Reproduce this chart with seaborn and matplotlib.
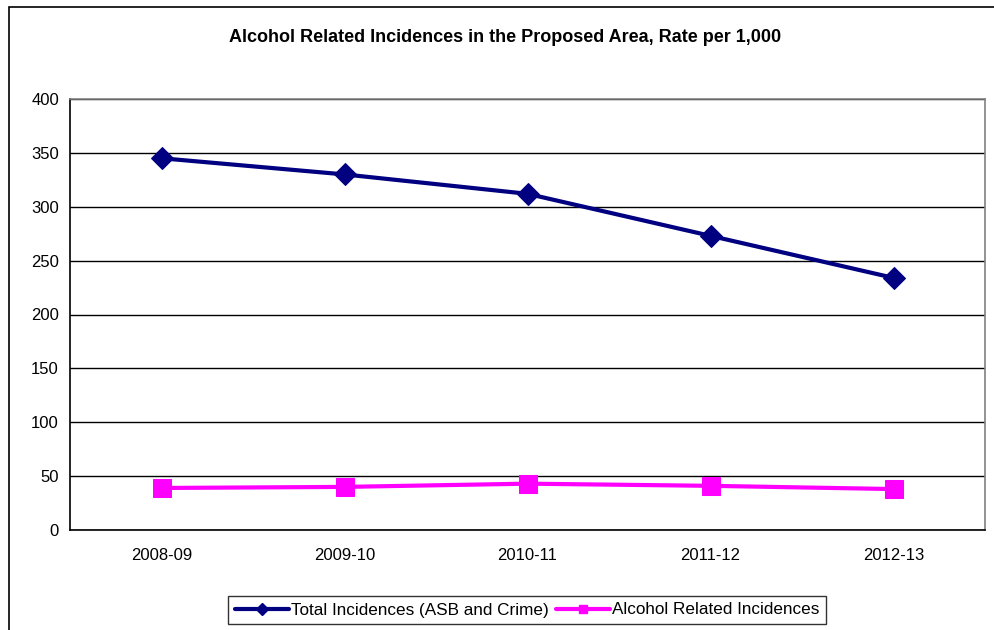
import matplotlib
matplotlib.use('Agg')
import matplotlib.pyplot as plt
import seaborn as sns
from matplotlib.patches import Rectangle
from matplotlib.lines import Line2D

# データ
years = ['2008-09', '2009-10', '2010-11', '2011-12', '2012-13']
total_incidences = [345, 330, 312, 273, 234]
alcohol_incidences = [39, 40, 43, 41, 38]

sns.set_style('white')
plt.rcParams['font.family'] = ['Liberation Sans', 'DejaVu Sans']
plt.rcParams['text.color'] = 'black'
plt.rcParams['xtick.color'] = 'black'
plt.rcParams['ytick.color'] = 'black'
plt.rcParams['axes.labelcolor'] = 'black'

fig = plt.figure(figsize=(9.95, 6.3), dpi=100)
ax = fig.add_axes([70 / 995, 1 - 530 / 630, 915 / 995, 431 / 630])

sns.lineplot(x=years, y=total_incidences, ax=ax, color='#000080', linewidth=3,
             marker='D', markersize=11, markeredgecolor='#000080', sort=False)
sns.lineplot(x=years, y=alcohol_incidences, ax=ax, color='#FF00FF', linewidth=3,
             marker='s', markersize=13, markeredgecolor='#FF00FF', sort=False)

ax.set_xlim(-0.5, len(years) - 0.5)
ax.set_ylim(0, 400)
ax.set_yticks(range(0, 401, 50))
ax.set_xticks(range(len(years)))
ax.set_xticklabels(years)
ax.set_xticks([i - 0.5 for i in range(len(years) + 1)], minor=True)
ax.tick_params(axis='x', which='major', length=0, pad=13, labelsize=12, labelcolor='black')
ax.tick_params(axis='x', which='minor', length=4, direction='out', color='black')
ax.tick_params(axis='y', length=5, direction='out', color='black', labelsize=12, pad=3,
               labelcolor='black')
ax.set_xlabel('')
ax.set_ylabel('')

ax.yaxis.grid(True, color='#000000', linewidth=1)
ax.set_axisbelow(True)
for side in ['top', 'right']:
    ax.spines[side].set_color('#808080')
    ax.spines[side].set_linewidth(1.2)
for side in ['left', 'bottom']:
    ax.spines[side].set_color('black')
    ax.spines[side].set_linewidth(1.2)

# 凡例（小さいマーカー）
handles = [
    Line2D([], [], color='#000080', linewidth=3, marker='D', markersize=6),
    Line2D([], [], color='#FF00FF', linewidth=3, marker='s', markersize=6),
]
labels = ['Total Incidences (ASB and Crime)', 'Alcohol Related Incidences']
leg = fig.legend(handles, labels, loc='center', bbox_to_anchor=(527 / 995, 1 - 610 / 630),
                 ncol=2, frameon=True, fancybox=False, edgecolor='black', fontsize=12.3,
                 handlelength=3.2, columnspacing=0.4, handletextpad=0.1, borderpad=0.4)
leg.get_frame().set_linewidth(1)
for t in leg.get_texts():
    t.set_color('black')

fig.text(505 / 995, 1 - 38 / 630, 'Alcohol Related Incidences in the Proposed Area, Rate per 1,000',
         ha='center', va='center', fontsize=13, fontweight='bold', color='black')

fig.patches.append(Rectangle((9 / 995, -0.1), 1.2, 1 - 7 / 630 + 0.1, transform=fig.transFigure,
                             fill=False, edgecolor='black', linewidth=1.2))

fig.savefig('out.png', dpi=100)
